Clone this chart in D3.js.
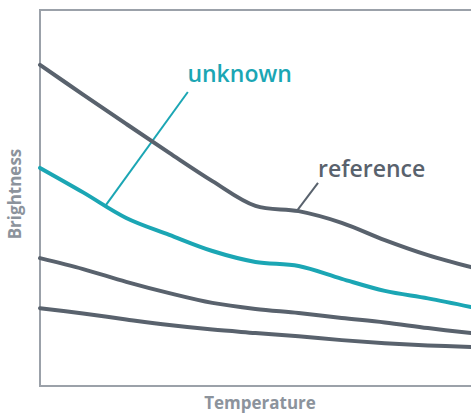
<!DOCTYPE html>
<html>
<head>
<meta charset="utf-8">
<script src="https://cdnjs.cloudflare.com/ajax/libs/d3/7.8.5/d3.min.js"></script>
<style>
  html, body { margin: 0; padding: 0; background: #fff; overflow: hidden; }
  text { font-family: "Open Sans", "Noto Sans", sans-serif; }
</style>
</head>
<body>
<script>
const WIDTH = 471;
const HEIGHT = 416;

// temperature samples (arbitrary units) and brightness per curve
var temps = [0, 10, 20, 30, 40, 50, 60, 70, 80, 90, 100];
var reference = [85.4, 77.5, 69.7, 62.0, 54.5, 47.9, 46.5, 43.4, 38.8, 34.8, 31.6];
var unknown = [58.0, 51.5, 44.7, 40.2, 35.9, 33.0, 31.9, 28.5, 25.3, 23.3, 21.0];
var third = [34.0, 31.1, 27.7, 24.7, 22.1, 20.5, 19.4, 18.1, 16.9, 15.4, 14.1];
var fourth = [20.7, 19.3, 17.7, 16.2, 15.0, 14.1, 13.2, 12.2, 11.4, 10.8, 10.4];

// callouts: text position, leader start, and where the leader meets the curve
var unknownNote = {text: 'unknown', tx: 34.2, ty: 80.9, lx: 34.3, ly: 78.2, px: 15.2};
var referenceNote = {text: 'reference', tx: 64.5, ty: 55.6, lx: 64.5, ly: 54.0, px: 59.6};

var svg = d3.select('body')
    .append('svg')
    .attr('width', WIDTH)
    .attr('height', HEIGHT);

var x = d3.scaleLinear().domain([0, 100]).range([40, 471]);
var y = d3.scaleLinear().domain([0, 100]).range([386, 10]);

var line = d3.line()
    .x(function(d, i) { return x(temps[i]); })
    .y(function(d) { return y(d); })
    .curve(d3.curveCatmullRom.alpha(0.5));

function valueAt(series, t) {
    var i = d3.bisectRight(temps, t) - 1;
    i = Math.max(0, Math.min(i, temps.length - 2));
    var f = (t - temps[i]) / (temps[i + 1] - temps[i]);
    return series[i] + f * (series[i + 1] - series[i]);
}

// frame (right side runs off the canvas)
svg.append('path')
    .attr('d', 'M' + (WIDTH + 2) + ',' + y(100) + 'H' + x(0) + 'V' + y(0) + 'H' + (WIDTH + 2))
    .attr('fill', 'none')
    .attr('stroke', '#9ba1a9')
    .attr('stroke-width', 2);

// leader lines
svg.append('line')
    .attr('x1', x(unknownNote.lx)).attr('y1', y(unknownNote.ly))
    .attr('x2', x(unknownNote.px)).attr('y2', y(valueAt(unknown, unknownNote.px)))
    .attr('stroke', '#1ba6b4')
    .attr('stroke-width', 2);

svg.append('line')
    .attr('x1', x(referenceNote.lx)).attr('y1', y(referenceNote.ly))
    .attr('x2', x(referenceNote.px)).attr('y2', y(valueAt(reference, referenceNote.px)))
    .attr('stroke', '#59626d')
    .attr('stroke-width', 2);

var curves = [
    {data: fourth, color: '#59626d'},
    {data: third, color: '#59626d'},
    {data: unknown, color: '#1ba6b4'},
    {data: reference, color: '#59626d'}
];

svg.selectAll('path.curve')
    .data(curves)
    .enter()
    .append('path')
    .attr('class', 'curve')
    .attr('d', function(d) { return line(d.data); })
    .attr('fill', 'none')
    .attr('stroke', function(d) { return d.color; })
    .attr('stroke-width', 4)
    .attr('stroke-linecap', 'round');

svg.append('text')
    .attr('x', x(unknownNote.tx))
    .attr('y', y(unknownNote.ty))
    .attr('font-size', 23)
    .attr('font-weight', 600)
    .attr('fill', '#1ba6b4')
    .text(unknownNote.text);

svg.append('text')
    .attr('x', x(referenceNote.tx))
    .attr('y', y(referenceNote.ty))
    .attr('font-size', 23)
    .attr('font-weight', 600)
    .attr('fill', '#59626d')
    .text(referenceNote.text);

// axis titles
svg.append('text')
    .attr('x', 260)
    .attr('y', 409)
    .attr('text-anchor', 'middle')
    .attr('font-size', 17)
    .attr('font-weight', 700)
    .attr('fill', '#8c939c')
    .text('Temperature');

svg.append('text')
    .attr('transform', 'translate(21,194) rotate(-90)')
    .attr('text-anchor', 'middle')
    .attr('font-size', 17)
    .attr('font-weight', 700)
    .attr('fill', '#8c939c')
    .text('Brightness');
</script>
</body>
</html>
